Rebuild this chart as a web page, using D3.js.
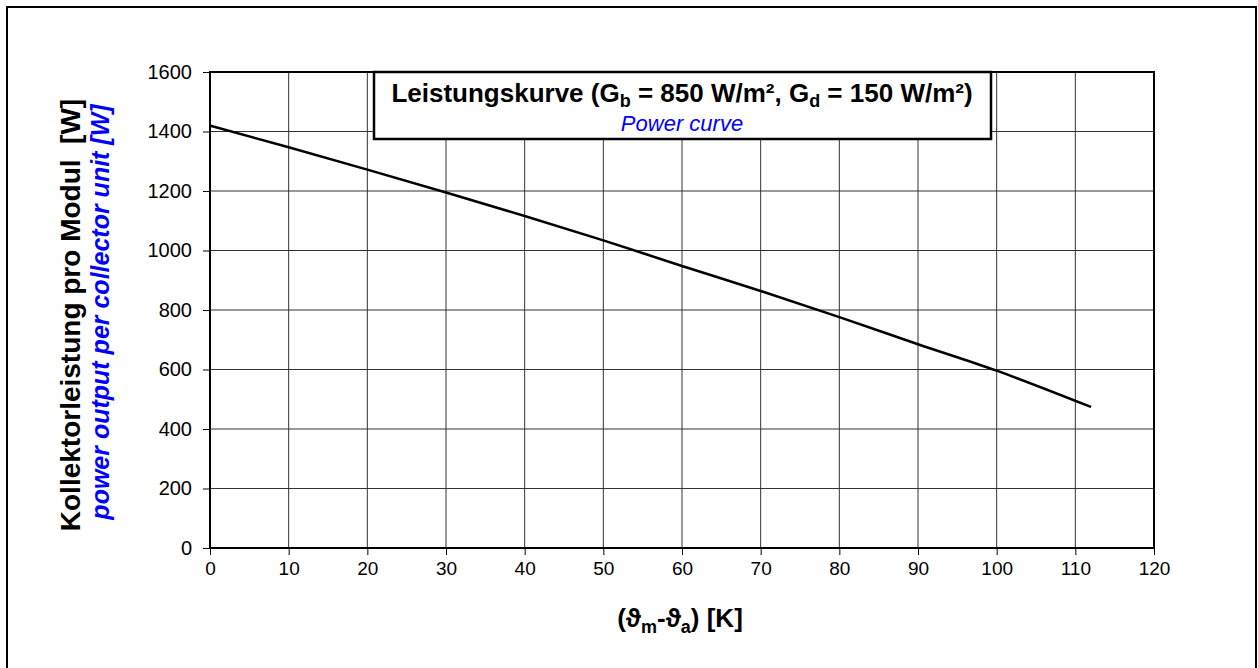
<html>
<head>
<style>
  body { margin:0; background:#fff; }
  svg text { font-family: "Liberation Sans", Arial, sans-serif; }
</style>
</head>
<body>
<svg id="chart" width="1258" height="668"></svg>
<script src="https://d3js.org/d3.v7.min.js"></script>
<script>
// data
var deltaT = [0, 10, 20, 30, 40, 50, 60, 70, 80, 90, 100, 112];
var power  = [1420, 1347, 1272, 1195, 1116, 1034, 948, 864, 776, 685, 596, 474];
var xTicks = [0, 10, 20, 30, 40, 50, 60, 70, 80, 90, 100, 110, 120];
var yTicks = [0, 200, 400, 600, 800, 1000, 1200, 1400, 1600];

var svg = d3.select('#chart');
var pL = 210, pR = 1154, pT = 72, pB = 548;

var x = d3.scaleLinear().domain([0, 120]).range([pL, pR]);
var y = d3.scaleLinear().domain([0, 1600]).range([pB, pT]);

// outer frame
svg.append('rect').attr('x', 7).attr('y', 7).attr('width', 1249).attr('height', 700)
  .attr('fill', 'none').attr('stroke', '#000').attr('stroke-width', 2);

// grid
svg.append('g').selectAll('line').data(xTicks.slice(1, -1)).enter().append('line')
  .attr('x1', d => x(d)).attr('x2', d => x(d)).attr('y1', pT).attr('y2', pB)
  .attr('stroke', '#333').attr('stroke-width', 1);
svg.append('g').selectAll('line').data(yTicks.slice(1, -1)).enter().append('line')
  .attr('x1', pL).attr('x2', pR).attr('y1', d => y(d)).attr('y2', d => y(d))
  .attr('stroke', '#333').attr('stroke-width', 1);

// axes
var xAxis = svg.append('g').attr('transform', 'translate(0,' + pB + ')')
  .call(d3.axisBottom(x).tickValues(xTicks).tickFormat(d3.format('d'))
    .tickSize(7).tickPadding(7).tickSizeOuter(0));
var yAxis = svg.append('g').attr('transform', 'translate(' + pL + ',0)')
  .call(d3.axisLeft(y).tickValues(yTicks).tickFormat(d3.format('d'))
    .tickSize(7).tickPadding(11).tickSizeOuter(0));
[xAxis, yAxis].forEach(function(a){
  a.select('.domain').remove();
  a.selectAll('line').attr('stroke', '#000');
  a.selectAll('text').attr('fill', '#000')
    .attr('font-family', '"Liberation Sans", Arial, sans-serif');
});
xAxis.selectAll('text').attr('font-size', 19);
yAxis.selectAll('text').attr('font-size', 20);

// plot frame
svg.append('rect').attr('x', pL).attr('y', pT).attr('width', pR - pL).attr('height', pB - pT)
  .attr('fill', 'none').attr('stroke', '#000').attr('stroke-width', 2);

// curve
var line = d3.line().x(function(d, i){ return x(deltaT[i]); }).y(function(d){ return y(d); })
  .curve(d3.curveMonotoneX);
svg.append('path').datum(power).attr('d', line)
  .attr('fill', 'none').attr('stroke', '#000').attr('stroke-width', 2.5);

// title box
svg.append('rect').attr('x', 374).attr('y', 72).attr('width', 617).attr('height', 67)
  .attr('fill', '#fff').attr('stroke', '#000').attr('stroke-width', 2.5);
var t1 = svg.append('text').attr('x', 682).attr('y', 102).attr('text-anchor', 'middle')
  .attr('font-size', 26).attr('font-weight', 'bold');
t1.append('tspan').text('Leistungskurve (G');
t1.append('tspan').text('b').attr('font-size', 18).attr('dy', 5);
t1.append('tspan').text(' = 850 W/m², G').attr('dy', -5);
t1.append('tspan').text('d').attr('font-size', 18).attr('dy', 5);
t1.append('tspan').text(' = 150 W/m²)').attr('dy', -5);
svg.append('text').attr('x', 682).attr('y', 131).attr('text-anchor', 'middle')
  .attr('font-size', 22).attr('font-style', 'italic').attr('fill', '#0000ff').text('Power curve');

// y axis titles
svg.append('text').attr('transform', 'translate(80,315) rotate(-90)').attr('text-anchor', 'middle')
  .style('white-space', 'pre')
  .attr('font-size', 28).attr('font-weight', 'bold').text('Kollektorleistung pro Modul  [W]');
svg.append('text').attr('transform', 'translate(109,312) rotate(-90)').attr('text-anchor', 'middle')
  .attr('font-size', 25).attr('font-weight', 'bold').attr('font-style', 'italic').attr('fill', '#0000ff')
  .text('power output per collector unit [W]');

// x axis title
var xt = svg.append('text').attr('x', 680).attr('y', 627).attr('text-anchor', 'middle')
  .attr('font-size', 26).attr('font-weight', 'bold');
xt.append('tspan').text('(ϑ');
xt.append('tspan').text('m').attr('font-size', 18).attr('dy', 6);
xt.append('tspan').text('-ϑ').attr('dy', -6);
xt.append('tspan').text('a').attr('font-size', 18).attr('dy', 6);
xt.append('tspan').text(') [K]').attr('dy', -6);
</script>
</body>
</html>
